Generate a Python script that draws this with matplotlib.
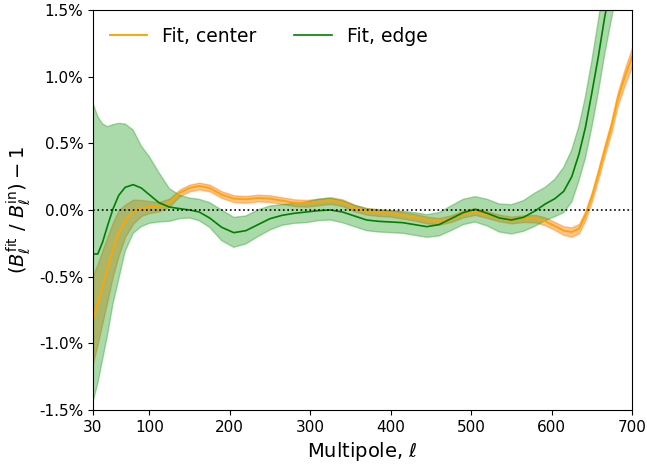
import matplotlib
matplotlib.use("Agg")
import matplotlib.pyplot as plt
from matplotlib.ticker import FuncFormatter

# multipole grid shared by both fits
ell = [30, 36, 42, 48, 55, 62, 70, 80, 90, 100, 112, 125, 138, 150, 162, 175,
       190, 205, 220, 235, 250, 265, 280, 295, 310, 325, 340, 355, 370, 385,
       400, 415, 430, 445, 460, 475, 490, 505, 520, 535, 550, 565, 580, 592,
       604, 615, 625, 634, 642, 650, 658, 666, 674, 682, 691, 700]

# fit, center (percent)
center = [-0.82, -0.70, -0.57, -0.44, -0.29, -0.17, -0.08, -0.012, 0.015, 0.022,
          0.025, 0.055, 0.13, 0.165, 0.18, 0.165, 0.115, 0.085, 0.08, 0.09,
          0.085, 0.07, 0.055, 0.05, 0.06, 0.07, 0.055, 0.015, -0.01, -0.02,
          -0.025, -0.04, -0.055, -0.075, -0.085, -0.065, -0.03, -0.012, -0.035, -0.06,
          -0.075, -0.065, -0.065, -0.085, -0.12, -0.155, -0.165, -0.14, -0.04, 0.10,
          0.27, 0.45, 0.62, 0.83, 1.0, 1.15]
center_err = [0.33, 0.30, 0.27, 0.24, 0.20, 0.17, 0.12, 0.09, 0.06, 0.045,
              0.035, 0.03, 0.025, 0.025, 0.025, 0.025, 0.025, 0.025, 0.025, 0.025,
              0.025, 0.025, 0.025, 0.025, 0.025, 0.025, 0.025, 0.025, 0.025, 0.025,
              0.025, 0.025, 0.025, 0.025, 0.025, 0.025, 0.025, 0.025, 0.025, 0.025,
              0.025, 0.025, 0.028, 0.029, 0.03, 0.032, 0.035, 0.035, 0.035, 0.035,
              0.038, 0.04, 0.045, 0.05, 0.06, 0.07]

# fit, edge (percent)
edge = [-0.33, -0.33, -0.24, -0.12, 0.01, 0.11, 0.17, 0.19, 0.165, 0.115,
        0.055, 0.022, 0.01, 0.0, -0.015, -0.06, -0.13, -0.17, -0.155, -0.11,
        -0.065, -0.04, -0.025, -0.015, -0.005, 0.0, -0.015, -0.045, -0.075, -0.085,
        -0.09, -0.095, -0.11, -0.125, -0.11, -0.065, -0.02, 0.005, -0.025, -0.06,
        -0.075, -0.055, -0.005, 0.045, 0.085, 0.14, 0.25, 0.42, 0.62, 0.88,
        1.15, 1.45, 1.70, 1.95, 2.2, 2.45]
edge_hi = [0.80, 0.70, 0.645, 0.625, 0.64, 0.65, 0.645, 0.60, 0.48, 0.40,
           0.28, 0.16, 0.11, 0.09, 0.08, 0.055, 0.0, -0.055, -0.045, 0.0,
           0.03, 0.04, 0.05, 0.06, 0.08, 0.09, 0.07, 0.035, 0.01, 0.0,
           -0.005, -0.01, -0.02, -0.035, -0.02, 0.03, 0.08, 0.10, 0.08, 0.045,
           0.04, 0.07, 0.13, 0.17, 0.23, 0.32, 0.45, 0.63, 0.85, 1.12,
           1.42, 1.72, 1.98, 2.24, 2.5, 2.75]
edge_lo = [-1.44, -1.30, -1.12, -0.94, -0.70, -0.52, -0.31, -0.175, -0.125, -0.10,
           -0.09, -0.085, -0.065, -0.06, -0.08, -0.13, -0.23, -0.28, -0.255, -0.20,
           -0.15, -0.115, -0.10, -0.095, -0.08, -0.075, -0.095, -0.125, -0.155, -0.165,
           -0.17, -0.175, -0.19, -0.205, -0.195, -0.155, -0.11, -0.09, -0.12, -0.165,
           -0.18, -0.16, -0.12, -0.08, -0.05, -0.02, 0.06, 0.22, 0.39, 0.62,
           0.88, 1.17, 1.42, 1.66, 1.9, 2.15]

xticks = [30, 100, 200, 300, 400, 500, 600, 700]
yticks = [-1.5, -1.0, -0.5, 0.0, 0.5, 1.0, 1.5]

c_lo = [c - e for c, e in zip(center, center_err)]
c_hi = [c + e for c, e in zip(center, center_err)]

fig = plt.figure(figsize=(6.47, 4.65), dpi=100)
ax = fig.add_axes([0.1437, 0.1183, 0.8333, 0.8602])

ax.fill_between(ell, c_lo, c_hi, color="C1", alpha=0.45, lw=1)
ax.fill_between(ell, edge_lo, edge_hi, color="C2", alpha=0.4, lw=1)
ax.plot(ell, center, color="orange", lw=1.4, label="Fit, center")
ax.plot(ell, edge, color="green", lw=1.2, label="Fit, edge")
ax.axhline(0, color="k", ls=":", lw=1.2)

ax.set_xlim(30, 700)
ax.set_ylim(-1.5, 1.5)
ax.set_xticks(xticks)
ax.set_yticks(yticks)
ax.yaxis.set_major_formatter(FuncFormatter(lambda v, p: "%.1f%%" % v))
ax.tick_params(labelsize=11)

ax.set_xlabel(r"Multipole, $\ell$", fontsize=14)
ax.set_ylabel(r"$(B_\ell^{\rm fit}\ /\ B_\ell^{\rm in}) - 1$", fontsize=14)
ax.legend(loc="upper left", ncol=2, frameon=False, fontsize=13.5)

plt.savefig("out.png", dpi=100)
